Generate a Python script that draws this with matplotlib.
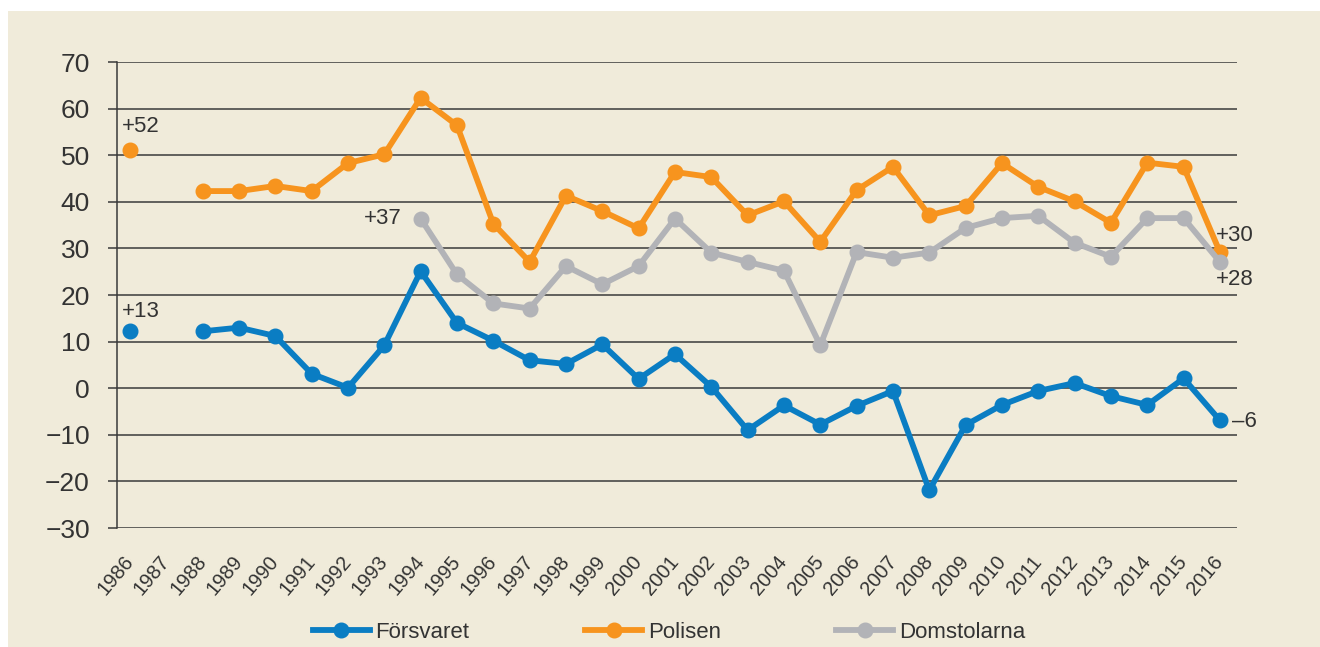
import numpy as np
import matplotlib
matplotlib.use("Agg")
import matplotlib.pyplot as plt
from matplotlib import font_manager
from matplotlib.patches import Rectangle

nan = np.nan

years = list(range(1986, 2017))

# förtroendebalans per år, 1987 saknas
forsvaret = [12.3, nan, 12.2, 13.0, 11.2, 3.1, 0.1, 9.2, 25.1, 14.0,
             10.2, 6.0, 5.2, 9.4, 2.0, 7.3, 0.3, -9.0, -3.7, -7.8,
             -3.8, -0.6, -21.9, -7.9, -3.6, -0.6, 1.1, -1.7, -3.6, 2.1,
             -6.9]
polisen = [51.1, nan, 42.3, 42.3, 43.4, 42.3, 48.3, 50.2, 62.3, 56.4,
           35.3, 27.1, 41.3, 38.0, 34.3, 46.4, 45.3, 37.1, 40.1, 31.4,
           42.5, 47.5, 37.1, 39.1, 48.3, 43.2, 40.1, 35.5, 48.4, 47.5,
           29.2]
domstolarna = [nan, nan, nan, nan, nan, nan, nan, nan, 36.4, 24.4,
               18.2, 17.1, 26.2, 22.3, 26.2, 36.4, 29.1, 27.1, 25.2, 9.2,
               29.2, 28.0, 29.1, 34.4, 36.5, 37.0, 31.2, 28.2, 36.5, 36.5,
               27.1]

series_names = ["Försvaret", "Polisen", "Domstolarna"]
series_colors = ["#0a7dc3", "#f7941e", "#b2b3b7"]

y_ticks = list(range(-30, 71, 10))

# etiketter vid första/sista värdet: (serie, år, text)
end_labels = [
    ("Polisen", 1986, "+52"),
    ("Försvaret", 1986, "+13"),
    ("Domstolarna", 1994, "+37"),
    ("Polisen", 2016, "+30"),
    ("Domstolarna", 2016, "+28"),
    ("Försvaret", 2016, "–6"),
]


def pick_font(names):
    available = {f.name for f in font_manager.fontManager.ttflist}
    for name in names:
        if name in available:
            return name
    return "DejaVu Sans"


def main():
    narrow = pick_font(["Liberation Sans Narrow", "Liberation Sans"])
    regular = pick_font(["Liberation Sans", "DejaVu Sans"])
    plt.rcParams["font.family"] = [regular, "DejaVu Sans"]

    text_color = "#333333"
    grid_color = "#3a3a3a"
    bg = "#f0ebda"

    fig = plt.figure(figsize=(13.2, 6.47), dpi=100, facecolor="white")
    fig.patches.append(Rectangle((8 / 1320, 0), 1, 1 - 11 / 647,
                                 transform=fig.transFigure, facecolor=bg,
                                 edgecolor="none", zorder=-10))

    ax = fig.add_axes([116.7 / 1320, 1 - 528 / 647,
                       (1237 - 116.7) / 1320, (528 - 62) / 647])
    ax.set_facecolor("none")

    data = {"Försvaret": forsvaret, "Polisen": polisen,
            "Domstolarna": domstolarna}

    for name, color in zip(series_names, series_colors):
        ax.plot(years, data[name], color=color, lw=4.2, marker="o",
                markersize=10.5, label=name, zorder=3, clip_on=False)

    ax.set_xlim(1986 - 0.366, 2016 + 0.47)
    ax.set_ylim(-30, 70)

    ax.set_yticks(y_ticks)
    ax.set_yticklabels([str(t).replace("-", "−") for t in y_ticks],
                       fontfamily=narrow, fontsize=19, color=text_color)
    ax.tick_params(axis="y", length=6.3, width=1.1, color=grid_color, pad=13)
    ax.yaxis.grid(True, color=grid_color, lw=1.1)
    ax.set_axisbelow(True)

    ax.set_xticks(years)
    ax.set_xticklabels([str(y) for y in years], rotation=50, ha="right",
                       va="center", rotation_mode="anchor", fontsize=14.5,
                       color=text_color)
    ax.tick_params(axis="x", length=0, pad=22)

    for side in ["top", "right", "bottom"]:
        ax.spines[side].set_visible(False)
    ax.spines["left"].set_color(grid_color)
    ax.spines["left"].set_linewidth(1.1)

    offsets = {
        ("Polisen", 1986): ((-5.8, 17), "left", "center"),
        ("Försvaret", 1986): ((-5.8, 14), "left", "center"),
        ("Domstolarna", 1994): ((-13.7, 0), "right", "center"),
        ("Polisen", 2016): ((-2.7, 12), "left", "center"),
        ("Domstolarna", 2016): ((-2.7, -13), "left", "center"),
        ("Försvaret", 2016): ((8.6, -1), "left", "center"),
    }
    for name, year, label in end_labels:
        value = data[name][years.index(year)]
        (dx, dy), ha, va = offsets[(name, year)]
        ax.annotate(label, (year, value), xytext=(dx, dy),
                    textcoords="offset points", ha=ha, va=va,
                    fontsize=16, color=text_color, zorder=4)

    fig.legend(loc="center", bbox_to_anchor=(669 / 1320, 1 - 632 / 647),
               ncol=3, frameon=False, fontsize=16, handlelength=2.57,
               handletextpad=0.25, columnspacing=5.2, labelcolor=text_color)

    fig.savefig("out.png", dpi=100, facecolor="white")


if __name__ == "__main__":
    main()
